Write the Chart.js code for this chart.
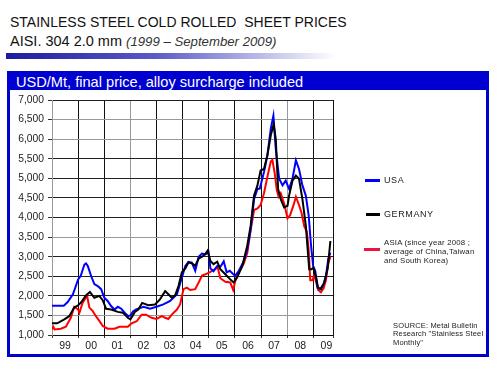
<!DOCTYPE html>
<html>
<head>
<meta charset="utf-8">
<script src="https://cdn.jsdelivr.net/npm/chart.js@4"></script>
<style>
  html, body { margin: 0; padding: 0; background: #fff; }
  body { width: 500px; height: 371px; position: relative; overflow: hidden; font-family: 'Liberation Sans', Arial, sans-serif; color: #222; }
  .abs { position: absolute; white-space: pre; }
  #title { left: 10px; top: 15px; font-size: 14px; line-height: 14px; color: #111; }
  #subtitle { left: 10px; top: 34px; font-size: 14.5px; line-height: 14px; color: #111; }
  #subtitle i { font-size: 13.2px; color: #333; }
  #bar { left: 6px; top: 53px; width: 330px; height: 6px; background: linear-gradient(to right, #1c1ca0, #5a5ac8 45%, #ffffff); }
  #box { left: 7px; top: 71px; width: 476px; height: 280px; border: 3px solid #0000d0; }
  #header { left: 7px; top: 71px; width: 482px; height: 19px; background: #0000d0; }
  #headtext { left: 16px; top: 74.5px; font-size: 14.6px; line-height: 14px; color: #fff; }
  .key { position: absolute; height: 3px; }
  .ltxt { position: absolute; font-size: 9px; line-height: 9px; letter-spacing: 0.6px; white-space: pre; color: #222; }
  .small { position: absolute; font-size: 7.8px; line-height: 9.2px; letter-spacing: 0.2px; white-space: pre; color: #222; }
  #source { font-size: 7.5px; line-height: 8.4px; letter-spacing: 0.15px; }
  canvas { position: absolute; left: 0; top: 0; }
</style>
</head>
<body>
<div class="abs" id="title">STAINLESS STEEL COLD ROLLED  SHEET PRICES</div>
<div class="abs" id="subtitle">AISI. 304 2.0 mm <i>(1999 – September 2009)</i></div>
<div class="abs" id="bar"></div>
<div class="abs" id="box"></div>
<div class="abs" id="header"></div>
<div class="abs" id="headtext">USD/Mt, final price, alloy surcharge included</div>

<canvas id="chart" width="500" height="371"></canvas>

<div class="key" style="left:365px; top:179px; width:15px; background:#0000ff;"></div>
<div class="ltxt" style="left:384px; top:175.5px;">USA</div>
<div class="key" style="left:366px; top:213px; width:14px; background:#000;"></div>
<div class="ltxt" style="left:384px; top:209.5px;">GERMANY</div>
<div class="key" style="left:364px; top:248px; width:16px; background:#ee1144;"></div>
<div class="small" style="left:384px; top:237.7px;">ASIA (since year 2008 ;
average of China,Taiwan
and South Korea)</div>
<div class="small" id="source" style="left:393px; top:322px;">SOURCE: Metal Bulletin
Research "Stainless Steel
Monthly"</div>

<script>
Chart.defaults.font.family = "'Liberation Sans', Arial, sans-serif";
Chart.defaults.font.size = 10;
Chart.defaults.color = '#333';

// monthly-ish readings, USD/Mt
const usaYears = [1999.0, 1999.45, 1999.6, 1999.8, 2000.0, 2000.1, 2000.24, 2000.3, 2000.37, 2000.5,
  2000.62, 2000.75, 2000.88, 2001.0, 2001.13, 2001.26, 2001.39, 2001.52, 2001.65, 2001.78,
  2001.92, 2002.0, 2002.1, 2002.2, 2002.5, 2002.75, 2003.0, 2003.26, 2003.52, 2003.78,
  2003.97, 2004.1, 2004.22, 2004.35, 2004.48, 2004.61, 2004.74, 2004.87, 2004.99, 2005.06,
  2005.18, 2005.32, 2005.45, 2005.57, 2005.68, 2005.8, 2006.0, 2006.15, 2006.34, 2006.47,
  2006.6, 2006.73, 2006.86, 2006.95, 2007.11, 2007.24, 2007.37, 2007.47, 2007.56, 2007.69,
  2007.82, 2007.94, 2008.07, 2008.2, 2008.33, 2008.45, 2008.58, 2008.71, 2008.82, 2008.9,
  2008.99, 2009.07, 2009.16, 2009.26, 2009.39, 2009.48, 2009.57, 2009.65];
const usaPrices = [1750, 1750, 1840, 2040, 2420, 2510, 2800, 2830, 2760, 2500,
  2300, 2250, 2170, 1950, 1870, 1740, 1650, 1720, 1670, 1570,
  1480, 1500, 1600, 1650, 1720, 1670, 1720, 1780, 1870, 2040,
  2470, 2760, 2870, 2850, 2640, 3000, 3080, 3060, 3120, 2700,
  2630, 2760, 2750, 2880, 2600, 2640, 2510, 2640, 2890, 3190,
  3700, 4470, 4730, 4740, 5160, 5590, 6270, 6600, 5760, 4990,
  4820, 4940, 4730, 4990, 5460, 5240, 4820, 4560, 4050, 3360,
  2760, 2640, 2210, 2170, 2300, 2510, 2940, 3100];

const germanyYears = [1999.0, 1999.2, 1999.47, 1999.66, 1999.85, 2000.0, 2000.11, 2000.3, 2000.45, 2000.62,
  2000.81, 2000.94, 2001.07, 2001.26, 2001.52, 2001.71, 2001.9, 2002.0, 2002.17, 2002.3,
  2002.45, 2002.68, 2002.94, 2003.13, 2003.33, 2003.45, 2003.58, 2003.71, 2003.84, 2003.97,
  2004.1, 2004.22, 2004.35, 2004.48, 2004.61, 2004.74, 2004.87, 2004.95, 2005.06, 2005.18,
  2005.32, 2005.44, 2005.63, 2005.82, 2005.95, 2006.08, 2006.28, 2006.47, 2006.6, 2006.73,
  2006.86, 2006.98, 2007.11, 2007.24, 2007.37, 2007.48, 2007.56, 2007.65, 2007.75, 2007.88,
  2008.01, 2008.07, 2008.2, 2008.33, 2008.45, 2008.58, 2008.71, 2008.84, 2008.93, 2009.0,
  2009.1, 2009.18, 2009.29, 2009.42, 2009.55, 2009.65];
const germanyPrices = [1300, 1300, 1400, 1480, 1700, 1760, 1830, 2010, 2100, 1950,
  2000, 1890, 1670, 1650, 1590, 1570, 1440, 1400, 1590, 1650,
  1820, 1760, 1780, 1910, 2120, 2040, 1950, 2010, 2250, 2600,
  2700, 2850, 2830, 2770, 2950, 3000, 3070, 3150, 2890, 2810,
  2870, 2680, 2550, 2420, 2340, 2470, 2760, 3280, 3790, 4560,
  4820, 5200, 5240, 5590, 6100, 6380, 6010, 4730, 4470, 4260,
  4300, 4560, 4940, 5070, 4990, 4470, 3790, 2680, 2680, 2720,
  2470, 2210, 2170, 2340, 2720, 3400];

const asiaYears = [1999.0, 1999.05, 1999.1, 1999.34, 1999.53, 1999.72, 1999.85, 2000.0, 2000.05, 2000.17,
  2000.34, 2000.43, 2000.56, 2000.68, 2000.81, 2000.94, 2001.13, 2001.39, 2001.58, 2001.9,
  2002.03, 2002.24, 2002.43, 2002.6, 2002.81, 2003.0, 2003.2, 2003.33, 2003.45, 2003.58,
  2003.78, 2003.9, 2004.03, 2004.16, 2004.29, 2004.48, 2004.61, 2004.74, 2004.87, 2005.06,
  2005.25, 2005.34, 2005.44, 2005.63, 2005.82, 2005.93, 2006.02, 2006.15, 2006.34, 2006.47,
  2006.6, 2006.73, 2006.86, 2006.98, 2007.11, 2007.24, 2007.37, 2007.43, 2007.52, 2007.6,
  2007.67, 2007.75, 2007.88, 2008.01, 2008.11, 2008.26, 2008.33, 2008.45, 2008.55, 2008.65,
  2008.75, 2008.82, 2008.88, 2008.97, 2009.03, 2009.1, 2009.18, 2009.29, 2009.39, 2009.48,
  2009.57, 2009.65];
const asiaPrices = [1140, 1210, 1140, 1160, 1210, 1440, 1720, 1650, 1570, 1820,
  2010, 1700, 1610, 1480, 1360, 1230, 1160, 1160, 1210, 1210,
  1290, 1350, 1520, 1520, 1440, 1410, 1480, 1440, 1410, 1520,
  1650, 1780, 2170, 2210, 2150, 2170, 2340, 2520, 2550, 2610,
  2690, 2720, 2450, 2360, 2340, 2150, 2400, 2620, 2830, 3090,
  3680, 4190, 4230, 4320, 4620, 5040, 5430, 5470, 5130, 4700,
  4530, 4620, 4360, 3980, 4060, 4360, 4530, 4320, 4110, 3770,
  3640, 3170, 2400, 2400, 2530, 2360, 2150, 2090, 2190, 2400,
  2830, 3000];

const yearTicks = [1999, 2000, 2001, 2002, 2003, 2004, 2005, 2006, 2007, 2008, 2009, 2009.75];
const grayYears = [1999, 2002, 2008];
const grayPrices = [6000, 6500, 3500, 1500];

function toPoints(xs, ys) {
  return xs.map((x, i) => ({x: x, y: ys[i]}));
}

function lineSet(label, xs, ys, color) {
  return {
    label: label,
    data: toPoints(xs, ys),
    borderColor: color,
    backgroundColor: color,
    borderWidth: 2,
    pointRadius: 0,
    tension: 0
  };
}

new Chart('chart', {
  type: 'line',
  data: {
    datasets: [
      lineSet('GERMANY', germanyYears, germanyPrices, '#000000'),
      lineSet('USA', usaYears, usaPrices, '#0000ff'),
      lineSet('ASIA', asiaYears, asiaPrices, '#ff0000')
    ]
  },
  options: {
    responsive: false,
    animation: false,
    layout: {
      padding: {left: 8, top: 100, right: 167, bottom: 6}
    },
    scales: {
      x: {
        type: 'linear',
        min: 1999,
        max: 2009.75,
        afterBuildTicks: scale => {
          scale.ticks = yearTicks.map(v => ({value: v}));
        },
        afterFit: scale => {
          scale.height = 30;
        },
        ticks: {
          autoSkip: false,
          maxRotation: 0,
          labelOffset: 13,
          padding: 2,
          color: '#222',
          font: {size: 10.5},
          callback: v => (v % 1 === 0 ? String(v).slice(2) : '')
        },
        grid: {
          tickLength: 3,
          color: ctx => (grayYears.includes(ctx.tick && ctx.tick.value) ? '#999' : '#111'),
          tickColor: '#333'
        },
        border: {color: '#111'}
      },
      y: {
        min: 1000,
        max: 7000,
        afterFit: scale => {
          scale.width = 44;
        },
        ticks: {
          stepSize: 500,
          padding: 4,
          color: '#222',
          font: {size: 10.3},
          callback: v => v.toLocaleString('en-US')
        },
        grid: {
          tickLength: 4,
          color: ctx => (grayPrices.includes(ctx.tick && ctx.tick.value) ? '#999' : '#222'),
          tickColor: '#333'
        },
        border: {color: '#999'}
      }
    },
    plugins: {
      legend: {display: false},
      tooltip: {enabled: false}
    }
  }
});
</script>
</body>
</html>
